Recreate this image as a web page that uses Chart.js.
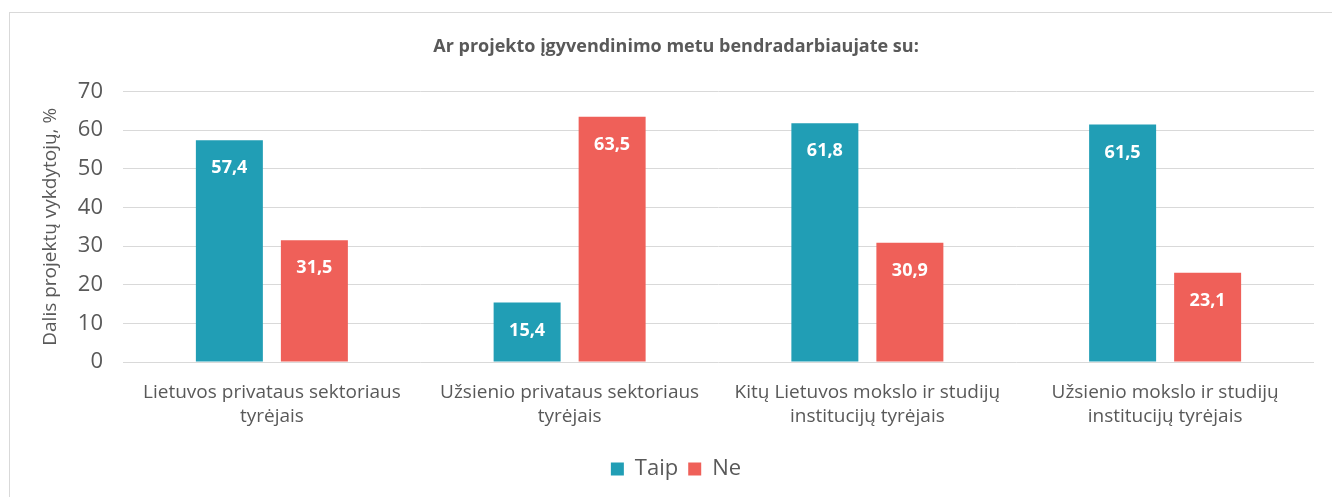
<!DOCTYPE html>
<html>
<head>
<meta charset="utf-8">
<script src="https://cdn.jsdelivr.net/npm/chart.js@4/dist/chart.umd.min.js"></script>
<style>
  html, body { margin: 0; padding: 0; background: #fff; overflow: hidden; }
  #frame { position: absolute; left: 9px; top: 12px; width: 1400px; height: 600px;
           border-top: 1px solid #d9d9d9; border-left: 1px solid #d9d9d9; }
  #wrap { position: absolute; left: 0; top: 0; width: 1332px; height: 497px; }
</style>
</head>
<body>
<div id="frame"></div>
<div id="wrap"><canvas id="barChart"></canvas></div>
<script>
const categories = [
  ['Lietuvos privataus sektoriaus', 'tyrėjais'],
  ['Užsienio privataus sektoriaus', 'tyrėjais'],
  ['Kitų Lietuvos mokslo ir studijų', 'institucijų tyrėjais'],
  ['Užsienio mokslo ir studijų', 'institucijų tyrėjais']
];
const taipValues = [57.4, 15.4, 61.8, 61.5];
const neValues = [31.5, 63.5, 30.9, 23.1];
const yTicks = [0, 10, 20, 30, 40, 50, 60, 70];

const FONT = '"Open Sans", Lato, sans-serif';
const GREY = '#595959';

// white value labels inside the top of each bar
const barLabels = {
  id: 'barLabels',
  afterDatasetsDraw(chart) {
    const ctx = chart.ctx;
    ctx.save();
    ctx.font = 'bold 18px ' + FONT;
    ctx.fillStyle = '#ffffff';
    ctx.textAlign = 'center';
    ctx.textBaseline = 'middle';
    chart.data.datasets.forEach((ds, i) => {
      chart.getDatasetMeta(i).data.forEach((bar, j) => {
        const txt = ds.data[j].toFixed(1).replace('.', ',');
        ctx.fillText(txt, bar.x, bar.y + 28);
      });
    });
    ctx.restore();
  }
};

const barChart = new Chart(document.getElementById('barChart'), {
  type: 'bar',
  data: {
    labels: categories,
    datasets: [
      { label: 'Taip', data: taipValues, backgroundColor: '#219eb5',
        categoryPercentage: 0.571, barPercentage: 0.788 },
      { label: 'Ne', data: neValues, backgroundColor: '#ef6059',
        categoryPercentage: 0.571, barPercentage: 0.788 }
    ]
  },
  options: {
    responsive: true,
    maintainAspectRatio: false,
    animation: false,
    layout: { padding: { left: 38, right: 18, top: 0, bottom: 7 } },
    plugins: {
      title: {
        display: true,
        text: 'Ar projekto įgyvendinimo metu bendradarbiaujate su:',
        color: GREY,
        font: { family: FONT, size: 18, weight: 'bold', lineHeight: 1.2 },
        padding: { top: 36, bottom: 34 }
      },
      legend: {
        position: 'bottom',
        labels: {
          color: GREY,
          font: { family: FONT, size: 22 },
          boxWidth: 13, boxHeight: 13, padding: 10
        }
      },
      tooltip: { enabled: false }
    },
    scales: {
      x: {
        grid: { display: false },
        border: { display: false },
        ticks: {
          color: GREY,
          font: { family: FONT, size: 19, lineHeight: 1.3 },
          padding: 10,
          maxRotation: 0,
          autoSkip: false
        },
        afterFit(scale) { scale.height = 86; }
      },
      y: {
        min: 0,
        max: 70,
        afterBuildTicks(scale) { scale.ticks = yTicks.map(v => ({ value: v })); },
        grid: { color: '#d9d9d9', lineWidth: 1, drawTicks: false },
        border: { display: false },
        ticks: {
          color: GREY,
          font: { family: FONT, size: 22 },
          padding: 20
        },
        title: {
          display: true,
          text: 'Dalis projektų vykdytojų, %',
          color: GREY,
          font: { family: FONT, size: 19 },
          padding: { top: 1, bottom: 0 }
        },
        afterFit(scale) { scale.width = 85; }
      }
    }
  },
  plugins: [barLabels]
});
</script>
</body>
</html>
